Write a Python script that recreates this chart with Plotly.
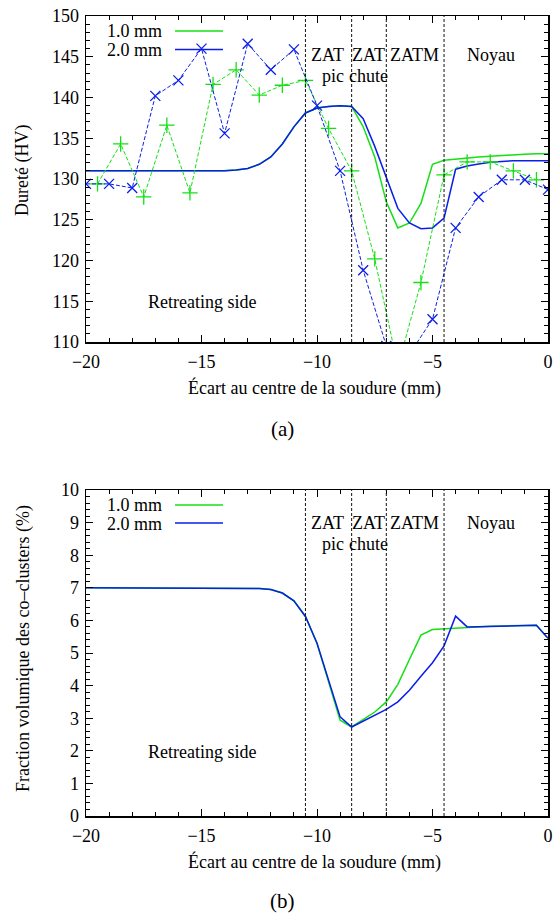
import plotly.graph_objects as go

# ---------------- data ----------------
# measured hardness, 1.0 mm (green +)
meas_x_10 = [-19.5, -18.5, -17.5, -16.5, -15.5, -14.5, -13.5, -12.5, -11.5, -10.5,
             -9.5, -8.5, -7.5, -6.5, -5.5, -4.5, -3.5, -2.5, -1.5, -0.5]
meas_hv_10 = [129.4, 134.3, 127.8, 136.6, 128.3, 141.6, 143.4, 140.3, 141.5, 142.1,
              136.2, 131.0, 120.2, 107.0, 117.3, 130.5, 132.1, 132.1, 131.0, 129.9]

# measured hardness, 2.0 mm (blue x)
meas_x_20 = [-20, -19, -18, -17, -16, -15, -14, -13, -12, -11,
             -10, -9, -8, -7, -6, -5, -4, -3, -2, -1, 0]
meas_hv_20 = [129.4, 129.4, 128.9, 140.2, 142.1, 146.0, 135.6, 146.6, 143.4, 145.9,
              139.0, 131.0, 118.8, 109.5, 108.5, 112.8, 124.0, 127.8, 129.9, 129.9, 128.7]

# model positions
model_x = [-20, -19, -18, -17, -16, -15, -14, -13.5, -13, -12.5, -12, -11.5, -11,
           -10.5, -10, -9.5, -9, -8.5, -8, -7.5, -7, -6.5, -6, -5.5, -5, -4.5,
           -4, -3.5, -3, -2.5, -2, -1.5, -1, -0.5, 0]

# model hardness
model_hv_10 = [131.0, 131.0, 131.0, 131.0, 131.0, 131.0, 131.0, 131.1, 131.3, 131.8, 132.7, 134.3, 136.4,
               138.1, 138.7, 138.9, 139.0, 138.9, 136.4, 132.7, 127.2, 124.0, 124.6, 127.0, 131.8, 132.3,
               132.45, 132.6, 132.7, 132.8, 132.9, 133.0, 133.05, 133.1, 133.1]
model_hv_20 = [131.0, 131.0, 131.0, 131.0, 131.0, 131.0, 131.0, 131.1, 131.3, 131.8, 132.7, 134.3, 136.4,
               138.1, 138.7, 138.9, 139.0, 138.9, 137.4, 134.0, 130.1, 126.4, 124.6, 123.9, 124.0, 125.2,
               131.2, 131.6, 131.85, 132.05, 132.15, 132.25, 132.25, 132.25, 132.25]

# model cluster volume fraction (%)
model_fv_10 = [7.0, 7.0, 7.0, 7.0, 7.0, 7.0, 7.0, 7.0, 7.0, 6.98, 6.95, 6.84, 6.6,
               6.12, 5.3, 4.15, 2.94, 2.73, 2.96, 3.19, 3.5, 4.04, 4.8, 5.55, 5.72, 5.74,
               5.77, 5.8, 5.81, 5.82, 5.83, 5.84, 5.85, 5.85, 5.45]
model_fv_20 = [7.0, 7.0, 7.0, 7.0, 7.0, 7.0, 7.0, 7.0, 7.0, 6.98, 6.95, 6.84, 6.6,
               6.12, 5.3, 4.15, 3.04, 2.73, 2.91, 3.09, 3.27, 3.5, 3.86, 4.29, 4.7, 5.22,
               6.13, 5.8, 5.81, 5.82, 5.83, 5.84, 5.85, 5.85, 5.45]

zone_bounds = [-10.5, -8.5, -7, -4.5]
series_names = ["1.0 mm", "2.0 mm"]
x_ticks = [-20, -15, -10, -5, 0]

# ---------------- layout helpers ----------------
W, H = 555, 915
ML, MR, MT, MB = 86, 7, 16, 99
PW = W - ML - MR
PH = H - MT - MB


def px(xp):  # screen pixel -> paper
    return (xp - ML) / PW


def py(yp):
    return (H - MB - yp) / PH


FONT = "Liberation Serif"
FS = 18
GREEN = "#14e014"
BLUE = "#0a1ee8"

fig = go.Figure()

# top panel
fig.add_trace(go.Scatter(x=model_x, y=model_hv_10, mode="lines", line=dict(color=GREEN, width=1.5),
                         xaxis="x", yaxis="y", showlegend=False))
fig.add_trace(go.Scatter(x=model_x, y=model_hv_20, mode="lines", line=dict(color=BLUE, width=1.5),
                         xaxis="x", yaxis="y", showlegend=False))
fig.add_trace(go.Scatter(x=meas_x_10, y=meas_hv_10, mode="lines+markers",
                         line=dict(color=GREEN, width=1, dash="4px,2px"),
                         marker=dict(symbol="cross-thin", size=11, line=dict(color=GREEN, width=1.3)),
                         xaxis="x", yaxis="y", showlegend=False))
fig.add_trace(go.Scatter(x=meas_x_20, y=meas_hv_20, mode="lines+markers",
                         line=dict(color=BLUE, width=1, dash="4px,2px"),
                         marker=dict(symbol="x-thin", size=10, line=dict(color=BLUE, width=1.3)),
                         xaxis="x", yaxis="y", showlegend=False))

# bottom panel
fig.add_trace(go.Scatter(x=model_x, y=model_fv_10, mode="lines", line=dict(color=GREEN, width=1.5),
                         xaxis="x2", yaxis="y2", showlegend=False))
fig.add_trace(go.Scatter(x=model_x, y=model_fv_20, mode="lines", line=dict(color=BLUE, width=1.5),
                         xaxis="x2", yaxis="y2", showlegend=False))

tickfont = dict(family=FONT, size=FS, color="black")


def xax(anchor):
    return dict(domain=[0, 1], anchor=anchor, range=[-20, 0], tickvals=x_ticks,
                ticks="inside", ticklen=7, tickwidth=1, tickcolor="black",
                mirror="allticks", showline=True, linecolor="black", linewidth=1.5,
                showgrid=False, zeroline=False, tickfont=tickfont, automargin=False,
                ticklabelstandoff=3, ticklabeloverflow="allow",
                minor=dict(dtick=1, tick0=0, ticks="inside", ticklen=4, tickwidth=1,
                           tickcolor="black", showgrid=False))


def yax(anchor, dom, rng, dt, mdt):
    return dict(domain=dom, anchor=anchor, range=rng, dtick=dt, tick0=0,
                ticks="inside", ticklen=7, tickwidth=1, tickcolor="black",
                mirror="allticks", showline=True, linecolor="black", linewidth=1.5,
                showgrid=False, zeroline=False, tickfont=tickfont, automargin=False,
                ticklabelstandoff=2, ticklabeloverflow="allow",
                minor=dict(dtick=mdt, tick0=0, ticks="inside", ticklen=4, tickwidth=1,
                           tickcolor="black", showgrid=False))


top_dom = [py(342), 1]
bot_dom = [0, py(490)]

shapes = []
for xb in zone_bounds:
    for xr, yr in (("x", "y domain"), ("x2", "y2 domain")):
        shapes.append(dict(type="line", xref=xr, yref=yr, x0=xb, x1=xb, y0=0, y1=1,
                           line=dict(color="#111111", width=1, dash="3px,2px"), layer="above"))

# legend samples
for (yt, col) in ((31, GREEN), (49.5, BLUE), (505, GREEN), (523, BLUE)):
    shapes.append(dict(type="line", xref="paper", yref="paper", x0=px(175), x1=px(223),
                       y0=py(yt), y1=py(yt), line=dict(color=col, width=1.5), layer="below"))

ann = []


def text(x, y, s, size=FS, xanchor="center", **kw):
    ann.append(dict(x=px(x), y=py(y), xref="paper", yref="paper", text=s, showarrow=False,
                    xanchor=xanchor, yanchor="middle",
                    font=dict(family=FONT, size=size, color="black"), **kw))


# legend labels
for y0 in (0, 474):
    text(164, 31 + y0, series_names[0], xanchor="right")
    text(164, 49.5 + y0, series_names[1], xanchor="right")

# zone labels
for y0 in (0, 468):
    text(327.5, 55 + y0, "ZAT")
    text(333, 76 + y0, "pic")
    text(368.7, 55 + y0, "ZAT")
    text(368.7, 76 + y0, "chute")
    text(414.7, 55 + y0, "ZATM")
    text(490.8, 55 + y0, "Noyau")

text(202, 302, "Retreating side")
text(202, 752, "Retreating side")

# axis titles
text(314, 388, "Écart au centre de la soudure (mm)")
text(314, 862, "Écart au centre de la soudure (mm)")
text(23, 171, "Dureté (HV)", textangle=-90)
text(23, 649, "Fraction volumique des co–clusters (%)", textangle=-90)

text(282, 429, "(a)", size=21)
text(282, 901, "(b)", size=21)

fig.update_layout(
    template="none",
    width=W, height=H,
    margin=dict(l=ML, r=MR, t=MT, b=MB, autoexpand=False),
    paper_bgcolor="white", plot_bgcolor="white",
    showlegend=False,
    hovermode=False,
    xaxis=xax("y"),
    yaxis=yax("x", top_dom, [110, 150], 5, 1),
    xaxis2=xax("y2"),
    yaxis2=yax("x2", bot_dom, [0, 10], 1, 0.2),
    shapes=shapes,
    annotations=ann,
    font=dict(family=FONT, size=FS, color="black"),
)

fig.write_html(
    "out.html",
    config={"displayModeBar": False, "staticPlot": True},
    post_script="document.body.style.margin='0';document.body.style.overflow='hidden';",
)
